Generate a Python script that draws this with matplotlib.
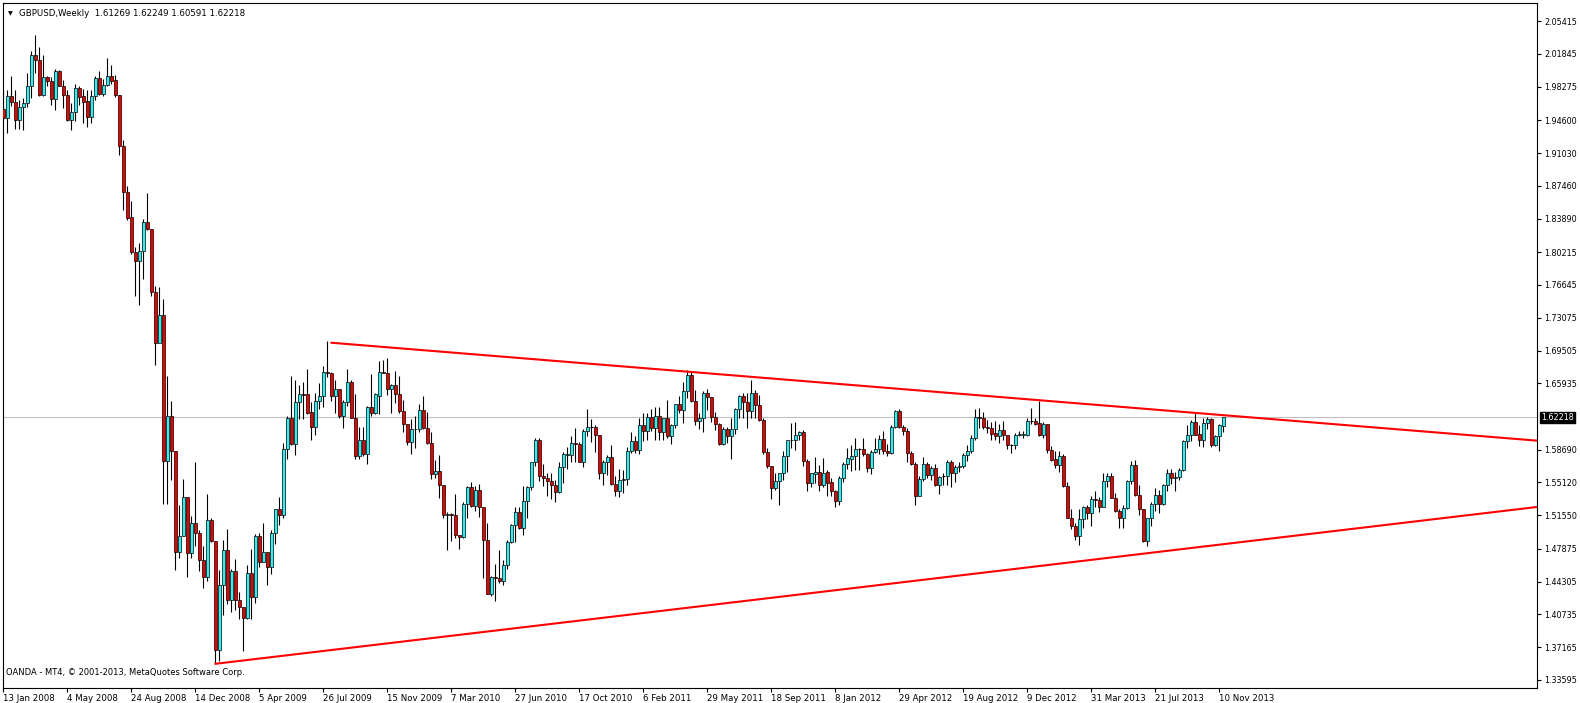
import numpy as np
import matplotlib.pyplot as plt
from matplotlib.transforms import blended_transform_factory

# weekly GBPUSD candles, 13 Jan 2008 .. 17 Nov 2013
opens = [
    1.958, 1.949, 1.972, 1.966, 1.946, 1.960, 1.965, 1.983, 2.017, 2.012,
    1.974, 1.993, 1.989, 1.969, 2.000, 1.983, 1.974, 1.946, 1.955, 1.981,
    1.972, 1.967, 1.950, 1.972, 1.992, 1.975, 1.984, 1.994, 1.990, 1.974,
    1.918, 1.868, 1.841, 1.802, 1.793, 1.804, 1.835, 1.827, 1.759, 1.703,
    1.734, 1.575, 1.624, 1.586, 1.475, 1.493, 1.535, 1.474, 1.507, 1.496,
    1.467, 1.448, 1.510, 1.487, 1.369, 1.439, 1.478, 1.423, 1.455, 1.423,
    1.415, 1.404, 1.452, 1.426, 1.493, 1.465, 1.475, 1.459, 1.496, 1.522,
    1.516, 1.588, 1.622, 1.593, 1.639, 1.648, 1.648, 1.628, 1.612, 1.640,
    1.645, 1.672, 1.671, 1.645, 1.653, 1.624, 1.639, 1.661, 1.622, 1.580,
    1.598, 1.582, 1.634, 1.627, 1.645, 1.672, 1.671, 1.653, 1.657, 1.648,
    1.629, 1.615, 1.595, 1.610, 1.609, 1.630, 1.611, 1.594, 1.560, 1.564,
    1.548, 1.516, 1.517, 1.516, 1.494, 1.492, 1.528, 1.546, 1.526, 1.543,
    1.525, 1.488, 1.430, 1.448, 1.447, 1.444, 1.461, 1.486, 1.505, 1.519,
    1.502, 1.531, 1.546, 1.573, 1.597, 1.558, 1.556, 1.553, 1.548, 1.541,
    1.568, 1.581, 1.581, 1.594, 1.593, 1.574, 1.607, 1.612, 1.612, 1.603,
    1.561, 1.574, 1.579, 1.550, 1.542, 1.554, 1.555, 1.585, 1.596, 1.587,
    1.614, 1.607, 1.623, 1.611, 1.624, 1.606, 1.622, 1.602, 1.614, 1.637,
    1.630, 1.651, 1.668, 1.640, 1.618, 1.622, 1.649, 1.644, 1.623, 1.615,
    1.593, 1.609, 1.602, 1.610, 1.631, 1.645, 1.639, 1.629, 1.649, 1.636,
    1.619, 1.584, 1.569, 1.545, 1.553, 1.562, 1.580, 1.597, 1.597, 1.603,
    1.606, 1.575, 1.551, 1.560, 1.563, 1.548, 1.563, 1.552, 1.542, 1.531,
    1.556, 1.571, 1.577, 1.580, 1.588, 1.588, 1.582, 1.567, 1.584, 1.588,
    1.599, 1.586, 1.583, 1.612, 1.629, 1.612, 1.607, 1.583, 1.571, 1.537,
    1.555, 1.571, 1.559, 1.567, 1.549, 1.558, 1.558, 1.573, 1.562, 1.568,
    1.569, 1.581, 1.586, 1.600, 1.623, 1.622, 1.612, 1.611, 1.605, 1.602,
    1.608, 1.603, 1.592, 1.592, 1.603, 1.603, 1.603, 1.618, 1.618, 1.616,
    1.603, 1.615, 1.587, 1.577, 1.570, 1.580, 1.547, 1.513, 1.504, 1.493,
    1.511, 1.524, 1.518, 1.533, 1.532, 1.524, 1.553, 1.558, 1.534, 1.520,
    1.512, 1.523, 1.553, 1.570, 1.538, 1.522, 1.487, 1.512, 1.528, 1.538,
    1.528, 1.549, 1.562, 1.556, 1.557, 1.565, 1.596, 1.603, 1.617, 1.604,
    1.598, 1.616, 1.620, 1.592, 1.602, 1.61269,
]
highs = [
    1.979, 1.979, 1.994, 1.979, 1.968, 1.970, 1.997, 2.021, 2.039, 2.026,
    2.017, 1.994, 1.993, 2.002, 2.001, 1.990, 1.979, 1.965, 1.985, 1.983,
    1.980, 1.979, 1.979, 1.994, 2.000, 1.991, 2.014, 2.006, 1.995, 1.974,
    1.925, 1.874, 1.858, 1.808, 1.812, 1.838, 1.867, 1.827, 1.765, 1.764,
    1.751, 1.667, 1.640, 1.586, 1.527, 1.555, 1.535, 1.515, 1.573, 1.499,
    1.482, 1.539, 1.512, 1.487, 1.456, 1.488, 1.500, 1.457, 1.468, 1.432,
    1.415, 1.461, 1.479, 1.495, 1.496, 1.507, 1.475, 1.499, 1.522, 1.535,
    1.594, 1.624, 1.667, 1.663, 1.657, 1.661, 1.675, 1.639, 1.649, 1.660,
    1.678, 1.705, 1.672, 1.663, 1.653, 1.641, 1.675, 1.663, 1.648, 1.612,
    1.612, 1.635, 1.669, 1.649, 1.684, 1.685, 1.687, 1.658, 1.673, 1.667,
    1.641, 1.615, 1.620, 1.624, 1.637, 1.646, 1.628, 1.606, 1.576, 1.581,
    1.548, 1.519, 1.518, 1.539, 1.494, 1.530, 1.547, 1.552, 1.547, 1.550,
    1.525, 1.507, 1.449, 1.462, 1.478, 1.467, 1.489, 1.506, 1.524, 1.524,
    1.547, 1.547, 1.574, 1.600, 1.600, 1.571, 1.562, 1.562, 1.554, 1.574,
    1.584, 1.590, 1.602, 1.611, 1.595, 1.609, 1.631, 1.620, 1.614, 1.603,
    1.576, 1.581, 1.592, 1.558, 1.566, 1.565, 1.590, 1.606, 1.602, 1.621,
    1.627, 1.627, 1.631, 1.634, 1.634, 1.622, 1.641, 1.615, 1.637, 1.646,
    1.661, 1.674, 1.672, 1.652, 1.627, 1.651, 1.653, 1.644, 1.628, 1.616,
    1.612, 1.612, 1.622, 1.632, 1.647, 1.649, 1.649, 1.663, 1.652, 1.647,
    1.622, 1.589, 1.569, 1.562, 1.562, 1.585, 1.598, 1.616, 1.617, 1.607,
    1.608, 1.577, 1.562, 1.579, 1.570, 1.578, 1.565, 1.556, 1.543, 1.558,
    1.573, 1.589, 1.592, 1.600, 1.589, 1.600, 1.583, 1.587, 1.600, 1.603,
    1.607, 1.593, 1.614, 1.630, 1.631, 1.614, 1.611, 1.585, 1.573, 1.558,
    1.579, 1.573, 1.569, 1.571, 1.558, 1.562, 1.576, 1.576, 1.570, 1.573,
    1.583, 1.592, 1.603, 1.631, 1.632, 1.628, 1.619, 1.617, 1.618, 1.615,
    1.618, 1.603, 1.593, 1.605, 1.607, 1.607, 1.621, 1.632, 1.621, 1.640,
    1.617, 1.615, 1.591, 1.585, 1.585, 1.582, 1.552, 1.522, 1.507, 1.522,
    1.526, 1.527, 1.536, 1.542, 1.535, 1.562, 1.562, 1.562, 1.540, 1.522,
    1.527, 1.554, 1.575, 1.576, 1.548, 1.522, 1.513, 1.530, 1.545, 1.543,
    1.550, 1.566, 1.566, 1.563, 1.567, 1.597, 1.614, 1.619, 1.627, 1.614,
    1.622, 1.623, 1.622, 1.603, 1.615, 1.62249,
]
lows = [
    1.945, 1.932, 1.961, 1.937, 1.937, 1.935, 1.960, 1.970, 1.997, 1.972,
    1.972, 1.983, 1.963, 1.957, 1.983, 1.959, 1.945, 1.935, 1.945, 1.963,
    1.943, 1.939, 1.943, 1.968, 1.974, 1.972, 1.983, 1.985, 1.971, 1.908,
    1.848, 1.837, 1.800, 1.754, 1.745, 1.773, 1.826, 1.754, 1.679, 1.703,
    1.528, 1.528, 1.554, 1.456, 1.469, 1.493, 1.448, 1.469, 1.482, 1.455,
    1.436, 1.444, 1.486, 1.354, 1.357, 1.407, 1.419, 1.410, 1.412, 1.402,
    1.368, 1.402, 1.402, 1.420, 1.459, 1.465, 1.440, 1.451, 1.484, 1.505,
    1.513, 1.577, 1.592, 1.581, 1.620, 1.620, 1.626, 1.598, 1.603, 1.631,
    1.634, 1.666, 1.640, 1.627, 1.621, 1.611, 1.635, 1.622, 1.577, 1.577,
    1.580, 1.571, 1.624, 1.626, 1.626, 1.670, 1.647, 1.627, 1.638, 1.627,
    1.606, 1.592, 1.582, 1.589, 1.606, 1.610, 1.593, 1.555, 1.556, 1.534,
    1.513, 1.478, 1.487, 1.491, 1.479, 1.491, 1.513, 1.524, 1.520, 1.514,
    1.447, 1.430, 1.428, 1.422, 1.442, 1.440, 1.457, 1.485, 1.486, 1.500,
    1.494, 1.512, 1.543, 1.569, 1.553, 1.547, 1.537, 1.533, 1.530, 1.540,
    1.551, 1.566, 1.574, 1.574, 1.573, 1.568, 1.602, 1.595, 1.584, 1.555,
    1.549, 1.559, 1.549, 1.536, 1.535, 1.540, 1.548, 1.583, 1.583, 1.582,
    1.596, 1.598, 1.607, 1.598, 1.598, 1.598, 1.600, 1.593, 1.611, 1.627,
    1.616, 1.643, 1.639, 1.614, 1.610, 1.606, 1.630, 1.617, 1.608, 1.592,
    1.592, 1.594, 1.577, 1.604, 1.622, 1.622, 1.611, 1.622, 1.621, 1.618,
    1.582, 1.567, 1.533, 1.543, 1.527, 1.554, 1.563, 1.589, 1.587, 1.597,
    1.569, 1.542, 1.546, 1.551, 1.542, 1.546, 1.536, 1.537, 1.524, 1.527,
    1.552, 1.566, 1.564, 1.565, 1.565, 1.580, 1.563, 1.560, 1.583, 1.582,
    1.582, 1.580, 1.582, 1.611, 1.611, 1.603, 1.573, 1.570, 1.527, 1.536,
    1.553, 1.556, 1.554, 1.547, 1.539, 1.549, 1.548, 1.546, 1.552, 1.563,
    1.567, 1.575, 1.583, 1.597, 1.611, 1.610, 1.605, 1.598, 1.597, 1.594,
    1.598, 1.588, 1.583, 1.588, 1.602, 1.600, 1.602, 1.615, 1.614, 1.602,
    1.600, 1.583, 1.575, 1.567, 1.563, 1.546, 1.512, 1.500, 1.488, 1.483,
    1.502, 1.511, 1.504, 1.524, 1.519, 1.524, 1.546, 1.534, 1.519, 1.502,
    1.502, 1.522, 1.550, 1.537, 1.516, 1.486, 1.482, 1.504, 1.520, 1.518,
    1.527, 1.542, 1.550, 1.542, 1.554, 1.564, 1.589, 1.596, 1.603, 1.591,
    1.590, 1.609, 1.590, 1.591, 1.585, 1.60591,
]
closes = [
    1.949, 1.972, 1.966, 1.946, 1.960, 1.965, 1.983, 2.017, 2.012, 1.974,
    1.993, 1.989, 1.969, 2.000, 1.983, 1.973, 1.946, 1.955, 1.981, 1.971,
    1.966, 1.950, 1.972, 1.992, 1.975, 1.984, 1.994, 1.989, 1.973, 1.918,
    1.868, 1.839, 1.802, 1.793, 1.804, 1.835, 1.827, 1.759, 1.703, 1.734,
    1.575, 1.624, 1.586, 1.475, 1.493, 1.535, 1.474, 1.507, 1.496, 1.467,
    1.448, 1.510, 1.487, 1.369, 1.439, 1.478, 1.423, 1.455, 1.423, 1.415,
    1.404, 1.452, 1.426, 1.493, 1.465, 1.475, 1.459, 1.496, 1.522, 1.516,
    1.588, 1.622, 1.593, 1.639, 1.648, 1.647, 1.627, 1.612, 1.640, 1.645,
    1.672, 1.671, 1.645, 1.653, 1.624, 1.639, 1.661, 1.622, 1.580, 1.598,
    1.582, 1.634, 1.627, 1.648, 1.672, 1.671, 1.653, 1.657, 1.648, 1.629,
    1.615, 1.595, 1.610, 1.609, 1.630, 1.611, 1.594, 1.560, 1.564, 1.548,
    1.516, 1.517, 1.516, 1.494, 1.492, 1.528, 1.546, 1.526, 1.543, 1.525,
    1.488, 1.430, 1.448, 1.447, 1.444, 1.461, 1.486, 1.505, 1.519, 1.502,
    1.531, 1.546, 1.573, 1.597, 1.558, 1.556, 1.553, 1.548, 1.541, 1.568,
    1.582, 1.582, 1.594, 1.593, 1.574, 1.607, 1.612, 1.612, 1.603, 1.561,
    1.574, 1.579, 1.550, 1.542, 1.554, 1.555, 1.585, 1.596, 1.587, 1.614,
    1.607, 1.623, 1.611, 1.624, 1.606, 1.622, 1.602, 1.614, 1.637, 1.630,
    1.651, 1.668, 1.640, 1.618, 1.622, 1.649, 1.644, 1.623, 1.615, 1.593,
    1.609, 1.602, 1.610, 1.631, 1.645, 1.639, 1.629, 1.649, 1.636, 1.619,
    1.584, 1.569, 1.545, 1.553, 1.562, 1.580, 1.597, 1.598, 1.603, 1.606,
    1.575, 1.551, 1.561, 1.563, 1.548, 1.562, 1.551, 1.542, 1.531, 1.556,
    1.571, 1.578, 1.580, 1.588, 1.588, 1.582, 1.567, 1.584, 1.588, 1.599,
    1.586, 1.583, 1.612, 1.629, 1.612, 1.607, 1.583, 1.571, 1.537, 1.555,
    1.571, 1.559, 1.567, 1.549, 1.557, 1.558, 1.573, 1.562, 1.568, 1.569,
    1.581, 1.586, 1.600, 1.623, 1.622, 1.612, 1.611, 1.604, 1.602, 1.608,
    1.603, 1.592, 1.592, 1.603, 1.604, 1.604, 1.618, 1.618, 1.615, 1.603,
    1.615, 1.587, 1.576, 1.570, 1.580, 1.547, 1.513, 1.504, 1.493, 1.511,
    1.524, 1.518, 1.533, 1.532, 1.524, 1.553, 1.558, 1.534, 1.520, 1.512,
    1.523, 1.553, 1.570, 1.538, 1.522, 1.487, 1.512, 1.528, 1.538, 1.528,
    1.549, 1.562, 1.556, 1.557, 1.565, 1.596, 1.603, 1.617, 1.603, 1.598,
    1.616, 1.620, 1.592, 1.602, 1.614, 1.62218,
]

# x-axis labels, one every 16 weeks
date_labels = ['13 Jan 2008', '4 May 2008', '24 Aug 2008', '14 Dec 2008',
               '5 Apr 2009', '26 Jul 2009', '15 Nov 2009', '7 Mar 2010',
               '27 Jun 2010', '17 Oct 2010', '6 Feb 2011', '29 May 2011',
               '18 Sep 2011', '8 Jan 2012', '29 Apr 2012', '19 Aug 2012',
               '9 Dec 2012', '31 Mar 2013', '21 Jul 2013', '10 Nov 2013']
date_idx = [16 * k for k in range(len(date_labels))]

price_ticks = [2.05415, 2.01845, 1.98275, 1.94600, 1.91030, 1.87460, 1.83890,
               1.80215, 1.76645, 1.73075, 1.69505, 1.65935, 1.58690, 1.55120,
               1.51550, 1.47875, 1.44305, 1.40735, 1.37165, 1.33595]
last_price = 1.62218

# trend lines drawn on the chart (bar index, price)
upper_idx = [82, 383.4]
upper_px = [1.7035, 1.5968]
lower_idx = [53, 383.4]
lower_px = [1.3536, 1.5245]

BULL = '#2FF0F0'
BEAR = '#E80000'

fig = plt.figure(figsize=(15.8, 7.03), dpi=100)
ax = fig.add_axes([2.5 / 1580, 15 / 703, 1534.5 / 1580, 685 / 703])

o = np.array(opens)
h = np.array(highs)
l = np.array(lows)
c = np.array(closes)
x = np.arange(len(o))

ax.axhline(last_price, color='#C0C0C0', lw=0.8, zorder=1)

ax.vlines(x, l, h, color='black', lw=0.8, zorder=2)
up = c > o
dn = c < o
flat = c == o
ax.bar(x[up], (c - o)[up], bottom=o[up], width=0.72, color=BULL,
       edgecolor='black', linewidth=0.5, zorder=3)
ax.bar(x[dn], (o - c)[dn], bottom=c[dn], width=0.72, color=BEAR,
       edgecolor='black', linewidth=0.5, zorder=3)
ax.hlines(c[flat], x[flat] - 0.36, x[flat] + 0.36, color='black', lw=0.8, zorder=3)

ax.plot(upper_idx, upper_px, color='#FF0000', lw=1.5, zorder=4)
ax.plot(lower_idx, lower_px, color='#FF0000', lw=1.5, zorder=4)

ax.set_xlim(-0.25, 383.4)
ax.set_ylim(1.3272, 2.0738)

ax.yaxis.tick_right()
ax.set_yticks(price_ticks)
ax.set_yticklabels([f'{p:.5f}' for p in price_ticks], fontsize=5.8)
ax.tick_params(axis='y', length=3, width=0.8, pad=2)

ax.set_xticks(date_idx)
ax.set_xticklabels(date_labels, fontsize=6.2, ha='left')
ax.tick_params(axis='x', length=3, width=0.8, pad=1)

for s in ax.spines.values():
    s.set_linewidth(0.8)

tr = blended_transform_factory(ax.transAxes, ax.transData)
ax.text(1.0025, last_price, f'{last_price:.5f}', transform=tr, fontsize=5.8,
        color='white', va='center', ha='left',
        bbox=dict(boxstyle='square,pad=0.15', fc='black', ec='black'))

ax.text(0.0035, 0.985, '\u25bc', transform=ax.transAxes, fontsize=4.5,
        va='center', ha='left')
ax.text(0.0105, 0.985, 'GBPUSD,Weekly  1.61269 1.62249 1.60591 1.62218',
        transform=ax.transAxes, fontsize=6.2, va='center', ha='left')
ax.text(0.002, 0.022, 'OANDA - MT4, \u00a9 2001-2013, MetaQuotes Software Corp.',
        transform=ax.transAxes, fontsize=6, va='center', ha='left')

fig.savefig('out.png', dpi=100, facecolor='white')
